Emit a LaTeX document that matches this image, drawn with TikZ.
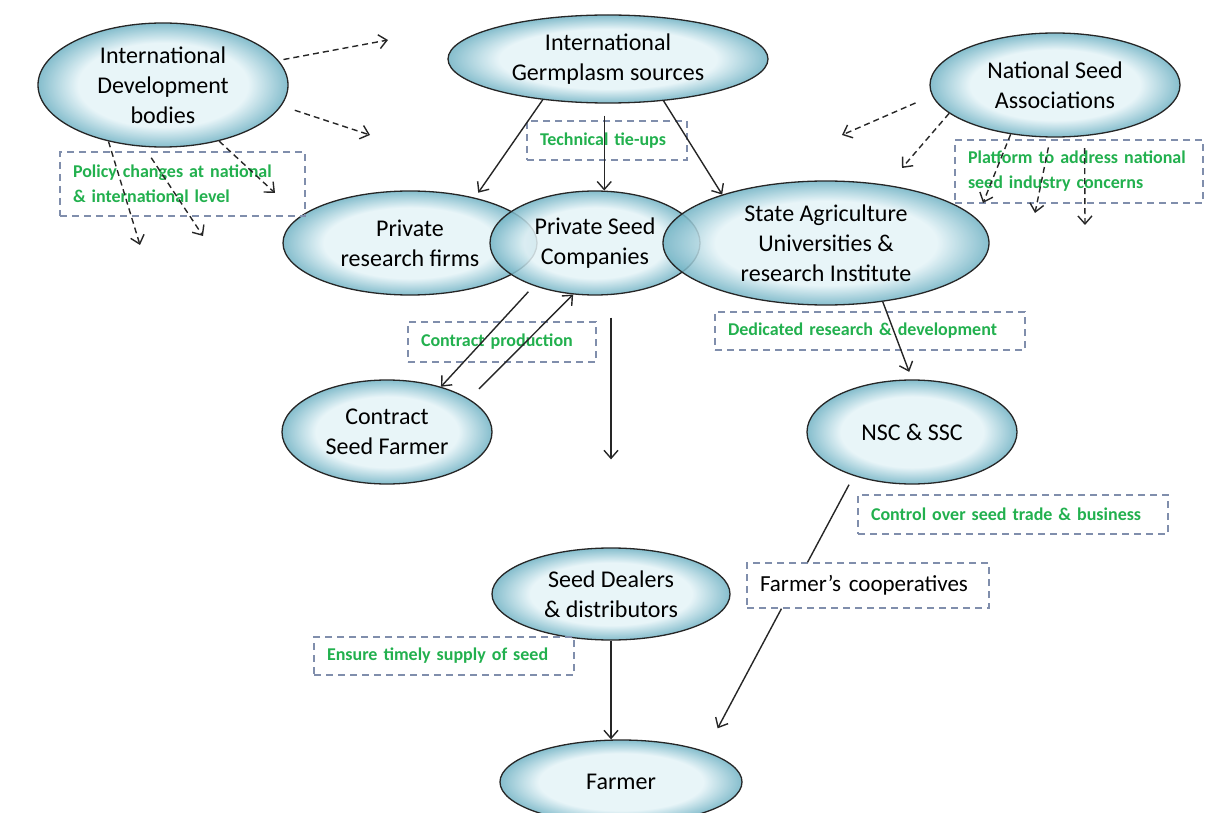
\documentclass[tikz,border=0pt]{standalone}
\usepackage{fontspec}
\setmainfont{Carlito}
\usetikzlibrary{shapes.geometric,arrows.meta}
\definecolor{glassin}{RGB}{228,243,247}
\definecolor{glassout}{RGB}{112,178,196}
\definecolor{notegreen}{RGB}{34,176,78}
\definecolor{notegray}{RGB}{128,142,172}
\pgfdeclareradialshading{glass}{\pgfpoint{0bp}{0bp}}{color(0bp)=(glassin); color(17bp)=(glassin); color(25bp)=(glassout); color(50bp)=(glassout)}

\begin{document}
\begin{tikzpicture}[x=1pt, y=-1pt,
	main/.style = {draw=black!85, line width=1.3pt, ellipse, inner sep=0pt, shade, shading=glass, fill opacity=0.85, text opacity=1, align=center, font=\fontsize{24}{30}\selectfont},
	note/.style = {draw=notegray, line width=1.4pt, dash pattern=on 7pt off 5pt, inner xsep=13pt, inner ysep=0pt, align=left, text=notegreen, font=\fontsize{18}{25}\selectfont\bfseries},
	arr/.style = {-{Straight Barb[length=8pt,width=14pt]}, line width=1.4pt, draw=black!85},
	darr/.style = {arr, dash pattern=on 6pt off 4pt}]
	\useasboundingbox (0,0) rectangle (1208,813);
	\clip (0,0) rectangle (1208,813);
	
	\node[main, minimum width=250pt, minimum height=124pt] (idb) at (163,85) {International\\Development\\bodies};
	\node[main, minimum width=320pt, minimum height=88pt] (igs) at (608,59) {International\\Germplasm sources};
	\node[main, minimum width=250pt, minimum height=104pt] (nsa) at (1055,85) {National Seed\\Associations};
	
	\node[main, minimum width=254pt, minimum height=104pt] (prf) at (410,243) {Private\\research firms};
	\node[main, minimum width=210pt, minimum height=104pt] (psc) at (595,243) {Private Seed\\Companies};
	\node[main, minimum width=326pt, minimum height=124pt] (sau) at (826,243) {State Agriculture\\Universities \&\\research Institute};
	
	\node[main, minimum width=210pt, minimum height=104pt] (csf) at (387,432) {Contract\\Seed Farmer};
	\node[main, minimum width=210pt, minimum height=104pt] (nsc) at (912,432) {NSC \& SSC};
	\node[main, minimum width=238pt, minimum height=92pt] (sdd) at (611,594) {Seed Dealers\\\& distributors};
	\node[main, minimum width=242pt, minimum height=84pt] (frm) at (621,782) {Farmer};
	
	\node[note, minimum height=64pt, text width=219pt] (pol) at (182.5,184) {\mbox{Policy changes at national}\\\& international level};
	\node[note, minimum height=39pt, text width=134pt] (tech) at (607,140.5) {\mbox{Technical tie-ups}};
	\node[note, minimum height=63pt, text width=222pt] (plat) at (1079,171.5) {\mbox{Platform to address national}\\seed industry concerns};
	\node[note, minimum height=40pt, text width=162pt] (cp) at (502,342) {\mbox{Contract production}};
	\node[note, minimum height=38pt, text width=284pt] (drd) at (870,331) {\mbox{Dedicated research \& development}};
	\node[note, minimum height=39pt, text width=284pt] (ctl) at (1013,514.5) {\mbox{Control over seed trade \& business}};
	\node[note, minimum height=45pt, text width=216pt, text=black, font=\fontsize{23}{28}\selectfont] (coop) at (868,585.5) {\mbox{Farmer’s cooperatives}};
	\node[note, minimum height=38pt, text width=234pt] (sup) at (444,656) {\mbox{Ensure timely supply of seed}};
	
	\coordinate (c1) at (388,40);
	\coordinate (c2) at (370,135);
	\coordinate (c3) at (140,245);
	\coordinate (c4) at (203,236);
	\coordinate (c5) at (275,193);
	\coordinate (c6) at (842,135);
	\coordinate (c7) at (902,168);
	\coordinate (c8) at (983,203);
	\coordinate (c9) at (1035,213);
	\coordinate (c10) at (1085,225);
	
	\draw[darr, shorten <=5pt] (idb.12) -- (c1);
	\draw[darr, shorten <=14pt] (idb.-10) -- (c2);
	\draw[darr] (idb.226) -- (c3);
	\draw[darr, shorten <=13pt] (idb.-107) -- (c4);
	\draw[darr] (idb.-45) -- (c5);
	
	\draw[darr, shorten <=18pt] (nsa.185) -- (c6);
	\draw[darr] (nsa.195) -- (c7);
	\draw[darr] (nsa.228) -- (c8);
	\draw[darr, shorten <=10pt] (nsa.265) -- (c9);
	\draw[darr, shorten <=12pt] (nsa.-60) -- (c10);
	
	\draw[arr, shorten >=6pt] (igs.212) -- (prf.35);
	\draw[arr, shorten <=12pt] (igs.south -| psc.80) -- (psc.80);
	\draw[arr] (igs.-37) -- (sau.155);
	
	\draw[arr, shorten <=8pt] (psc.215) -- (csf.40);
	\draw[arr, shorten <=14pt] (csf.22) -- (psc.247);
	\draw[arr, shorten <=22pt, shorten >=88pt] (psc.south -| sdd.north) -- (sdd.north);
	
	\draw[arr, shorten >=8pt] (sau.-46) -- (nsc.north);
	\draw[line width=1.4pt, draw=black!85, shorten <=10pt] (nsc.217) -- (coop.159.4);
	\draw[arr, shorten >=26pt] (coop.195) -- (frm.20);
	\draw[arr] (sdd.south) -- (sdd.south |- frm.north);
\end{tikzpicture}
\end{document}
